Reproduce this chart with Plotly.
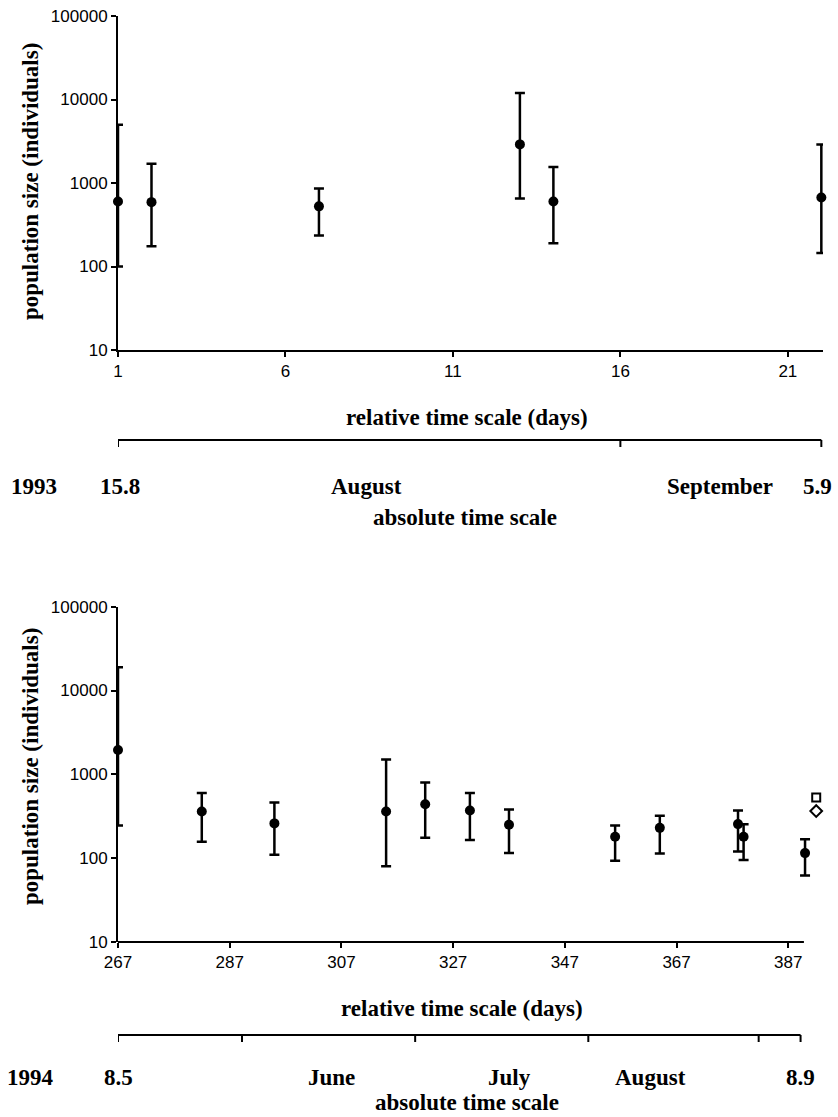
import plotly.graph_objects as go

W, H = 838, 1117

# ---------------- data ----------------
days_1993 = [1, 2, 7, 13, 14, 22]
pop_1993 = [600, 590, 525, 2900, 600, 670]
upper_1993 = [5000, 1700, 860, 12000, 1550, 2900]
lower_1993 = [100, 175, 235, 650, 190, 145]

days_1994 = [267, 282, 295, 315, 322, 330, 337, 356, 364, 378, 379, 390]
pop_1994 = [1950, 360, 260, 360, 440, 370, 250, 180, 230, 255, 180, 115]
upper_1994 = [19000, 600, 460, 1500, 800, 600, 380, 245, 320, 370, 254, 168]
lower_1994 = [245, 157, 110, 80, 175, 165, 115, 93, 114, 120, 95, 62]

extra_day_1994 = [392]
square_1994 = [530]
diamond_1994 = [365]

y_tickvals = [10, 100, 1000, 10000, 100000]
y_ticktext = ["10", "100", "1000", "10000", "100000"]
x_ticks_1993 = [1, 6, 11, 16, 21]
x_ticks_1994 = [267, 287, 307, 327, 347, 367, 387]

# absolute time scale marks, expressed in relative days
abs_ticks_1993 = [1, 16, 22]
abs_labels_1993 = ["1993", "15.8", "August", "September", "5.9"]
abs_ticks_1994 = [267, 289.2, 320.2, 351.2, 381.7, 389.2]
abs_labels_1994 = ["1994", "8.5", "June", "July", "August", "8.9"]

rel_title = "relative time scale (days)"
abs_title = "absolute time scale"
y_title = "population size (individuals)"

# ---------------- helpers ----------------
def fx(p):
    return p / W

def fy(p):
    return 1 - p / H

TICKFONT = dict(family="Liberation Sans, Arial", size=17, color="black")
SERIF = dict(family="Liberation Serif, Times New Roman", size=23, color="black", weight="bold")

def err(vals, up, lo):
    return dict(type="data", symmetric=False,
                array=[u - v for u, v in zip(up, vals)],
                arrayminus=[v - l for v, l in zip(vals, lo)],
                color="black", thickness=2.5, width=5)

fig = go.Figure()

fig.add_trace(go.Scatter(
    x=days_1993, y=pop_1993, mode="markers",
    marker=dict(color="black", size=10),
    error_y=err(pop_1993, upper_1993, lower_1993),
    xaxis="x", yaxis="y", cliponaxis=False, showlegend=False))

fig.add_trace(go.Scatter(
    x=days_1994, y=pop_1994, mode="markers",
    marker=dict(color="black", size=10),
    error_y=err(pop_1994, upper_1994, lower_1994),
    xaxis="x2", yaxis="y2", cliponaxis=False, showlegend=False))

fig.add_trace(go.Scatter(
    x=extra_day_1994, y=square_1994, mode="markers",
    marker=dict(symbol="square-open", color="black", size=8, line=dict(width=2)),
    xaxis="x2", yaxis="y2", cliponaxis=False, showlegend=False))

fig.add_trace(go.Scatter(
    x=extra_day_1994, y=diamond_1994, mode="markers",
    marker=dict(symbol="diamond-open", color="black", size=9, line=dict(width=2)),
    xaxis="x2", yaxis="y2", cliponaxis=False, showlegend=False))

common_x = dict(ticks="outside", ticklen=5, tickwidth=2, tickcolor="black",
                showgrid=False, zeroline=False, tickfont=TICKFONT,
                linecolor="black", linewidth=2, automargin=False)
common_y = dict(type="log", range=[1, 5], tickvals=y_tickvals, ticktext=y_ticktext,
                ticks="outside", ticklen=5, tickwidth=2, tickcolor="black",
                showline=True, linecolor="black", linewidth=2,
                showgrid=False, zeroline=False, tickfont=TICKFONT, automargin=False)

fig.update_layout(
    template="none",
    width=W, height=H, margin=dict(l=0, r=0, t=0, b=0, pad=0, autoexpand=False),
    paper_bgcolor="white", plot_bgcolor="white", showlegend=False,
    xaxis=dict(domain=[fx(118), fx(823)], range=[1, 22.05], tickvals=x_ticks_1993,
               anchor="y", showline=True, **common_x),
    yaxis=dict(domain=[fy(350), fy(16)], anchor="x", **common_y),
    xaxis2=dict(domain=[fx(118), fx(819)], range=[267, 392.5], tickvals=x_ticks_1994,
                anchor="y2", showline=False, **common_x),
    yaxis2=dict(domain=[fy(942), fy(606.7)], anchor="x2", **common_y),
)

LINE = dict(color="black", width=2)

# bottom x-axis line (ends short of the extra symbols, as in the reference)
fig.add_shape(type="line", xref="x2", yref="y2 domain", x0=267, x1=389.8, y0=0, y1=0,
              line=LINE, layer="above")

# absolute time scales: bracket line with down ticks, on the relative-day axes
def abs_scale(xref, ticks, ypx, tick_len=7):
    fig.add_shape(type="line", xref=xref, yref="paper", x0=ticks[0], x1=ticks[-1],
                  y0=fy(ypx), y1=fy(ypx), line=LINE)
    for t in ticks:
        fig.add_shape(type="line", xref=xref, yref="paper", x0=t, x1=t,
                      y0=fy(ypx), y1=fy(ypx + tick_len), line=LINE)

abs_scale("x", abs_ticks_1993, 440)
abs_scale("x2", abs_ticks_1994, 1035)

def ann(text, px, py, angle=0):
    fig.add_annotation(text=text, x=fx(px), y=fy(py), xref="paper", yref="paper",
                       showarrow=False, xanchor="center", yanchor="middle",
                       textangle=angle, font=SERIF)

# y titles
ann(y_title, 30, 182, -90)
ann(y_title, 30, 767, -90)

# relative / absolute titles
ann(rel_title, 467, 417)
ann(abs_title, 465, 517)
ann(rel_title, 462, 1008)
ann(abs_title, 467, 1102)

# absolute scale labels 1993
for t, px in zip(abs_labels_1993, [34, 120, 366, 720, 817]):
    ann(t, px, 487)

# absolute scale labels 1994
for t, px in zip(abs_labels_1994, [31, 118, 331, 509, 650, 800]):
    ann(t, px, 1077)

fig.write_html(
    "out.html",
    config={"displayModeBar": False},
    post_script="document.body.style.margin='0px';document.body.style.overflow='hidden';",
)
